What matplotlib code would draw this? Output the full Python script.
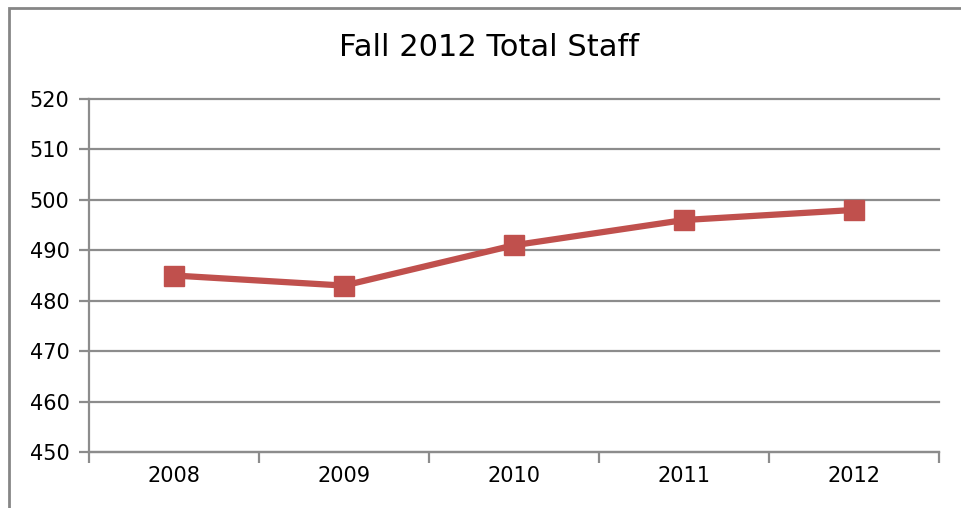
import matplotlib
matplotlib.use("Agg")
import matplotlib.pyplot as plt
from matplotlib.patches import Rectangle

categories = ["2008", "2009", "2010", "2011", "2012"]
staff = [485, 483, 491, 496, 498]
yticks = [450, 460, 470, 480, 490, 500, 510, 520]

plt.rcParams['font.family'] = ['DejaVu Sans']

W, H = 961, 508
fig = plt.figure(figsize=(W/100, H/100), dpi=100)
ax = fig.add_axes([89/W, 1-452/H, (939-89)/W, (452-99)/H])

x = list(range(len(categories)))
ax.plot(x, staff, color="#C0504D", linewidth=4.5, marker="s", markersize=14,
        markerfacecolor="#C0504D", markeredgecolor="#C0504D", zorder=3, clip_on=False)

ax.set_xlim(-0.5, len(categories)-0.5)
ax.set_ylim(450, 520)
ax.set_yticks(yticks)
ax.set_yticklabels([str(v) for v in yticks], fontsize=15, color="#000000")
ax.set_xticks(x)
ax.set_xticklabels(categories, fontsize=15, color="#000000")
ax.set_xticks([i-0.5 for i in range(len(categories)+1)], minor=True)

gc = "#8C8C8C"
ax.grid(axis="y", color=gc, linewidth=1.6)
for gl in ax.get_ygridlines():
    gl.set_clip_on(False)
ax.set_axisbelow(True)
for s in ["top", "right"]:
    ax.spines[s].set_visible(False)
for s in ["left", "bottom"]:
    ax.spines[s].set_color(gc)
    ax.spines[s].set_linewidth(1.6)
ax.tick_params(axis="y", which="major", length=7, width=1.6, color=gc, pad=7)
ax.tick_params(axis="x", which="major", length=0, pad=10)
ax.tick_params(axis="x", which="minor", length=8, width=1.6, color=gc)

fig.text(489/W, 1-47/H, "Fall 2012 Total Staff", ha="center", va="center", fontsize=22, color="#000000")

fig.patches.append(Rectangle((9/W, -0.1), 1.2, 1-8/H+0.1, transform=fig.transFigure,
                             fill=False, edgecolor="#868686", linewidth=2, zorder=0))

fig.savefig("out.png", dpi=100)
